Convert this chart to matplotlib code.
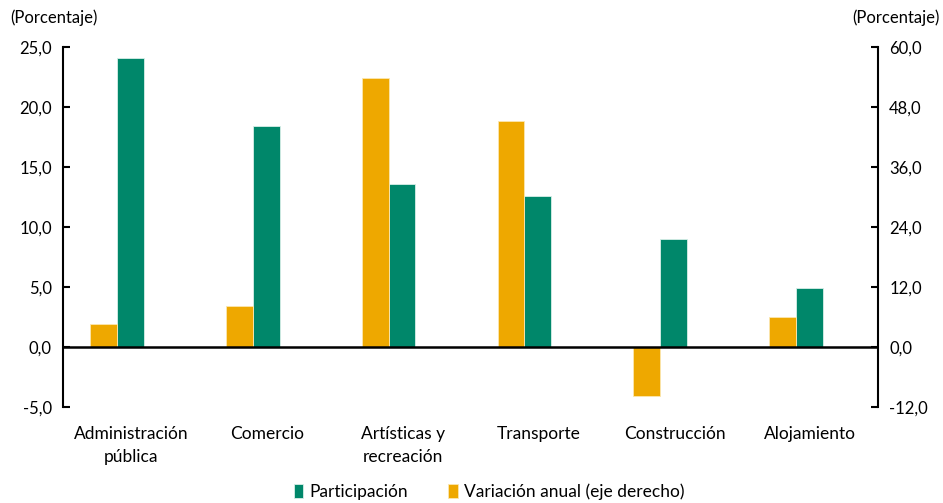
import matplotlib
matplotlib.use("Agg")
import matplotlib.pyplot as plt
import numpy as np
from matplotlib.ticker import FuncFormatter

categories = ["Administración\npública", "Comercio", "Artísticas y\nrecreación",
              "Transporte", "Construcción", "Alojamiento"]
participacion = [24.1, 18.4, 13.6, 12.6, 9.0, 4.9]
variacion = [4.6, 8.2, 53.8, 45.3, -9.8, 6.0]
left_ticks = [-5, 0, 5, 10, 15, 20, 25]
right_ticks = [-12, 0, 12, 24, 36, 48, 60]

plt.rcParams['font.family'] = ['Lato', 'DejaVu Sans']
green = "#00876A"
orange = "#EEA800"

fig = plt.figure(figsize=(9.43, 5.03), dpi=100)
ax = fig.add_axes([63/943, 1-407/503, (878-63)/943, 360/503])
ax2 = ax.twinx()

x = np.arange(len(categories))
w = 0.197
ax.bar(x + w/2, participacion, w, color=green, edgecolor="#d8efe8", linewidth=0.6,
       label="Participación")
ax2.bar(x - w/2, variacion, w, color=orange, edgecolor="#fbe7b0", linewidth=0.6,
        label="Variación anual (eje derecho)")

ax.set_xlim(-0.398, 5.604)
ax.set_ylim(-5, 25)
ax2.set_ylim(-12, 60)
ax.set_yticks(left_ticks)
ax2.set_yticks(right_ticks)
fmt = FuncFormatter(lambda v, p: f"{v:.1f}".replace(".", ","))
ax.yaxis.set_major_formatter(fmt)
ax2.yaxis.set_major_formatter(fmt)

for a in (ax, ax2):
    a.spines['top'].set_visible(False)
    a.spines['bottom'].set_visible(False)
    a.spines['left'].set_linewidth(1.5)
    a.spines['right'].set_linewidth(1.5)
    a.tick_params(axis='y', direction='in', length=5, width=1.5, labelsize=12,
                  colors='black', pad=8)
ax2.spines['left'].set_visible(False)
ax.spines['right'].set_visible(False)

ax.set_xticks(x + 0.105)
ax.set_xticklabels(categories, fontsize=12.5, linespacing=1.5)
ax.tick_params(axis='x', length=0, pad=14)

ax2.axhline(0, color='black', linewidth=1.8, zorder=5)

fig.text(10/943, 1-18/503, "(Porcentaje)", fontsize=12, va='center', ha='left')
fig.text(940/943, 1-18/503, "(Porcentaje)", fontsize=12, va='center', ha='right')

h1, l1 = ax.get_legend_handles_labels()
h2, l2 = ax2.get_legend_handles_labels()
fig.legend(h1 + h2, l1 + l2, loc='center', bbox_to_anchor=(489/943, 1-492/503), ncol=2,
           frameon=False, fontsize=12.5, handlelength=0.55, handleheight=0.9,
           handletextpad=0.35, columnspacing=2.3)

fig.savefig("out.png", dpi=100)
